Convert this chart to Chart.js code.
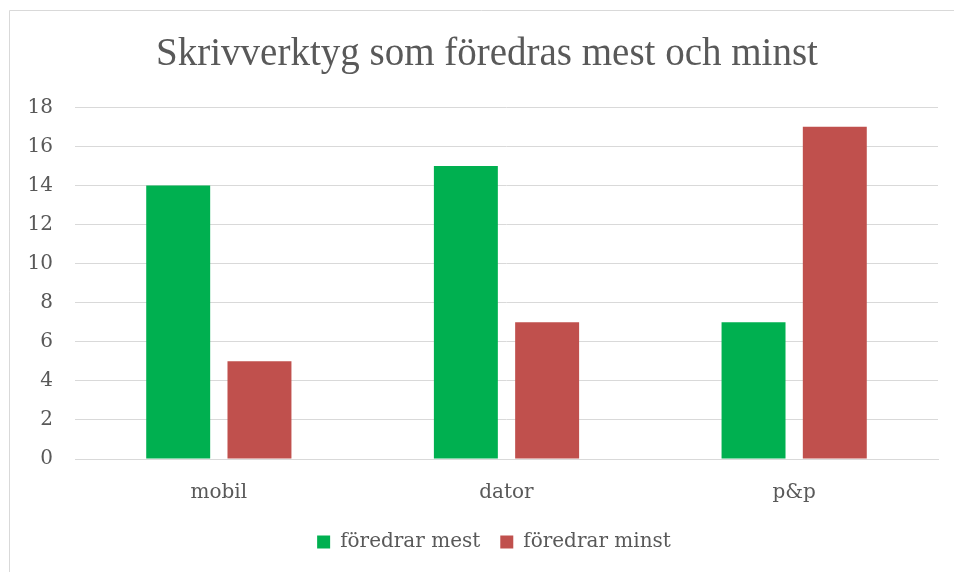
<!DOCTYPE html>
<html>
<head>
<meta charset="utf-8">
<script src="https://cdn.jsdelivr.net/npm/chart.js@4.4.0/dist/chart.umd.min.js"></script>
<style>
  html, body { margin: 0; padding: 0; background: #fff; overflow: hidden; }
  #wrap { width: 954px; height: 572px; position: relative; }
</style>
</head>
<body>
<div id="wrap"><canvas id="chart"></canvas></div>
<script>
const categories = ['mobil', 'dator', 'p&p'];
const mostValues = [14, 15, 7];
const leastValues = [5, 7, 17];
const seriesNames = ['föredrar mest', 'föredrar minst'];
const yTicks = [0, 2, 4, 6, 8, 10, 12, 14, 16, 18];

const textColor = '#595959';
const fontFamily = "'DejaVu Serif', 'Liberation Serif', serif";

// thin frame on top and left edge like the screenshot
const framePlugin = {
  id: 'frame',
  beforeDraw(chart) {
    const ctx = chart.ctx;
    ctx.save();
    ctx.strokeStyle = '#d9d9d9';
    ctx.lineWidth = 1;
    ctx.beginPath();
    ctx.moveTo(9.5, chart.height);
    ctx.lineTo(9.5, 10.5);
    ctx.lineTo(chart.width, 10.5);
    ctx.stroke();
    ctx.restore();
  }
};

// title and legend in the original sit a bit right of the canvas centre
const boxShift = {
  id: 'boxShift',
  afterLayout(chart) {
    if (chart.legend) {
      chart.legend.left += 25;
      chart.legend.right += 25;
    }
    if (chart.titleBlock) {
      chart.titleBlock.left += 18;
      chart.titleBlock.right += 18;
    }
  }
};

new Chart(document.getElementById('chart'), {
  type: 'bar',
  data: {
    labels: categories,
    datasets: [
      {
        label: seriesNames[0],
        data: mostValues,
        backgroundColor: '#00b050',
        categoryPercentage: 0.565,
        barPercentage: 0.787
      },
      {
        label: seriesNames[1],
        data: leastValues,
        backgroundColor: '#c0504d',
        categoryPercentage: 0.565,
        barPercentage: 0.787
      }
    ]
  },
  options: {
    responsive: true,
    maintainAspectRatio: false,
    animation: false,
    layout: { padding: { left: 0, right: 16, top: 0, bottom: 10 } },
    plugins: {
      title: {
        display: true,
        text: 'Skrivverktyg som föredras mest och minst',
        color: textColor,
        font: { family: "'Liberation Serif', serif", size: 39, weight: 'normal' },
        padding: { top: 31, bottom: 29.5 }
      },
      legend: {
        position: 'bottom',
        labels: {
          color: textColor,
          font: { family: fontFamily, size: 20 },
          boxWidth: 13,
          boxHeight: 13,
          padding: 20
        }
      },
      tooltip: { enabled: false }
    },
    scales: {
      x: {
        grid: { display: false, drawTicks: false },
        border: { color: '#d9d9d9', width: 1 },
        ticks: {
          color: textColor,
          font: { family: fontFamily, size: 20 },
          padding: 22
        },
        afterFit(scale) { scale.height = 53; }
      },
      y: {
        min: 0,
        max: 18,
        afterBuildTicks(scale) { scale.ticks = yTicks.map(v => ({ value: v })); },
        grid: { color: '#d9d9d9', drawTicks: false },
        border: { display: false },
        ticks: {
          color: textColor,
          font: { family: fontFamily, size: 20 },
          padding: 22
        },
        afterFit(scale) { scale.width = 75; }
      }
    }
  },
  plugins: [framePlugin, boxShift]
});
</script>
</body>
</html>
